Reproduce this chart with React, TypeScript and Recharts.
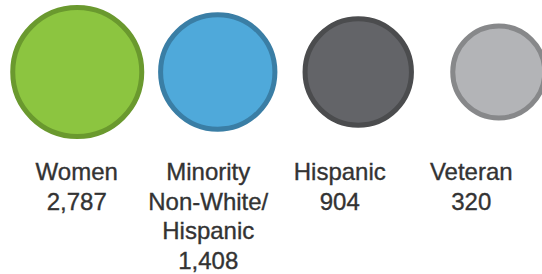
import React from 'react';
import { ScatterChart, Scatter, XAxis, YAxis, ZAxis } from 'recharts';

// ---- data ----
const categories = ['Women', 'Minority\nNon-White/\nHispanic', 'Hispanic', 'Veteran'];
const counts = [2787, 1408, 904, 320];

// ---- styles ----
const FILLS = ['#8cc540', '#4fa9da', '#636468', '#b3b4b7'];
const STROKES = ['#6a992e', '#3a7ea5', '#4b4c4e', '#87888a'];
const TEXT_COLOR = '#333333';
const FONT = "'Liberation Sans', Arial, sans-serif";

const rows = categories.map((c, i) => ({ category: c, count: counts[i], row: 1 }));

const LabelTick = (props: any) => {
  const { x, y, payload } = props;
  const idx = categories.indexOf(payload.value);
  const lines = String(payload.value).split('\n');
  const all = [...lines, idx >= 0 ? counts[idx].toLocaleString('en-US') : ''];
  return (
    <text x={x} y={y} textAnchor="middle" fill={TEXT_COLOR} fontSize={24} fontFamily={FONT} stroke={TEXT_COLOR} strokeWidth={0.35}>
      {all.map((l, k) => (
        <tspan key={k} x={x} y={y + 6 + k * 29.7}>
          {l}
        </tspan>
      ))}
    </text>
  );
};

const Bubble = (props: any) => {
  const { cx, cy, width, payload } = props;
  const idx = categories.indexOf(payload.category);
  return (
    <circle
      cx={cx}
      cy={cy}
      r={width / 2}
      fill={FILLS[idx]}
      stroke={STROKES[idx]}
      strokeWidth={5}
    />
  );
};

export default function App() {
  return (
    <div style={{ position: 'absolute', left: 0, top: 0, width: 542, height: 274, overflow: 'hidden', background: '#fff' }}>
      <ScatterChart width={580} height={274} margin={{ top: 0, right: 0, bottom: 0, left: 0 }}>
        <XAxis xAxisId="bubbles" dataKey="category" type="category" hide padding={{ left: 7, right: 11 }} />
        <XAxis
          xAxisId="labels"
          dataKey="category"
          type="category"
          padding={{ left: 11, right: 43 }}
          height={130}
          axisLine={false}
          tickLine={false}
          tickSize={0}
          tickMargin={0}
          interval={0}
          tick={<LabelTick />}
        />
        <YAxis dataKey="row" type="number" domain={[0, 2]} hide />
        <ZAxis dataKey="count" type="number" domain={['dataMin', 'dataMax']} scale="sqrt" range={[6648, 13070]} />
        <Scatter data={rows} xAxisId="bubbles" isAnimationActive={false} shape={<Bubble />} />
        <Scatter data={rows} xAxisId="labels" isAnimationActive={false} shape={() => <g />} />
      </ScatterChart>
    </div>
  );
}
